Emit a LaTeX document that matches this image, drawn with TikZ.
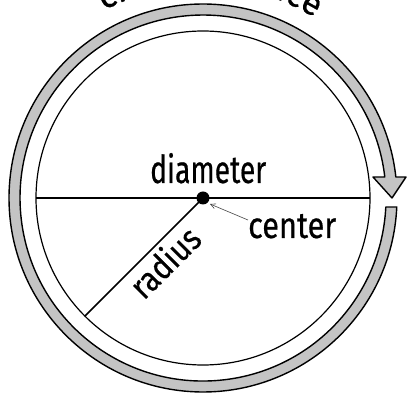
\documentclass[tikz,border=0pt]{standalone}
\usepackage{fontspec}
\newfontfamily\hw{Fira Sans}[FakeBold=0.6]
\usetikzlibrary{calc,arrows.meta,decorations.text}
\definecolor{bandgray}{HTML}{C4C4C4}
\tikzset{
  band/.style={fill=bandgray, draw=black, line width=1.4pt, line join=round},
  rim/.style={draw=black, line width=1.2pt},
  segline/.style={draw=black, line width=1.5pt},
  pointer/.style={draw=black!75, line width=0.6pt, -{Straight Barb[length=5pt,width=5pt]}},
  lbl/.style={inner sep=0pt, font=\hw}
}
\begin{document}
\begin{tikzpicture}[x=1pt,y=1pt]
\clip (-203,-203) rectangle (204,198);
\useasboundingbox (-203,-203) rectangle (204,198);
% circumference band with arrowhead
\path[band] (-2.66:194) arc[start angle=-2.66, end angle=-353.8, radius=194]
  -- (203,21) -- (189,0) -- (170,21) -- (181.8,21)
  arc[start angle=6.6, end angle=357.18, radius=183] -- cycle;
% circle
\coordinate (C) at (0,0);
\draw[rim] (C) circle[radius=167];
\coordinate (L) at (180:167);
\coordinate (R) at (0:167);
\coordinate (P) at (225:167);
\draw[segline] (L) -- (R);
\draw[segline] (C) -- (P);
\fill (C) circle[radius=6.5];
% labels
\node[lbl, anchor=base west] (dia) at (-53,15) {\resizebox{116pt}{30pt}{diameter}};
\node[lbl, anchor=base west] (cen) at (45,-40) {\resizebox{88pt}{24pt}{center}};
\node[lbl, anchor=base west, rotate=45] (rad) at (-59,-103) {\resizebox{84pt}{27pt}{radius}};
\coordinate (tipc) at (7,-6);
\draw[pointer] (cen.west |- 0,-22) -- (tipc);
% circumference text along arc
\path[decorate, decoration={text along path, text align=center,
  text={|\hw\fontsize{34}{34}\selectfont|circumference}}]
  (133:212) arc[start angle=133, end angle=43, radius=212];
\end{tikzpicture}
\end{document}
